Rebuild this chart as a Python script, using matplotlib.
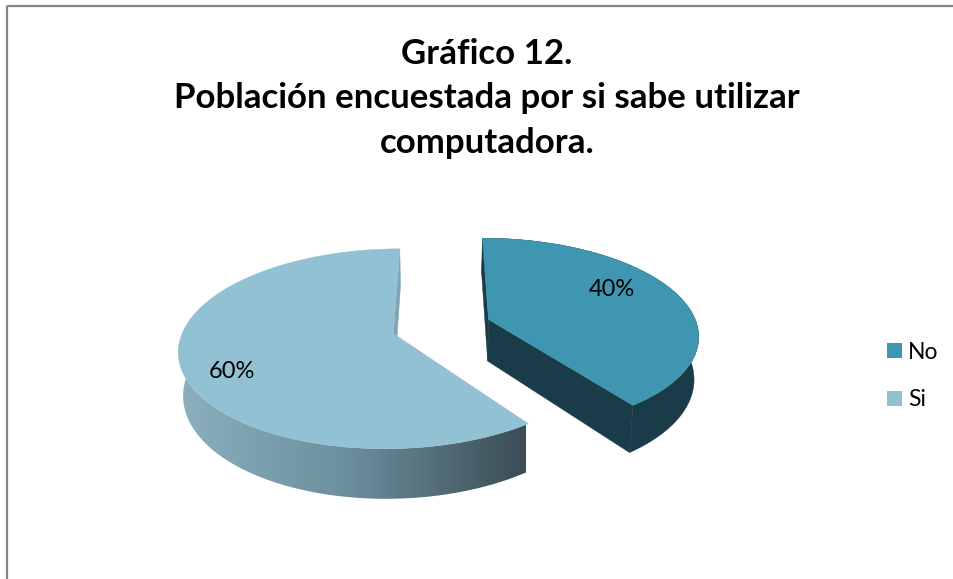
import numpy as np
import matplotlib
matplotlib.use("Agg")
import matplotlib.pyplot as plt
from matplotlib.patches import Polygon, Patch
from matplotlib.colors import LinearSegmentedColormap

plt.rcParams['font.family'] = ['Lato', 'DejaVu Sans']

# ---- data ----
categories = ["No", "Si"]
values = [40, 60]
title = "Gráfico 12.\nPoblación encuestada por si sabe utilizar\ncomputadora."

# ---- styles ----
top_colors = ["#3F96B0", "#92C1D3"]
wall_no = "#1A3C48"
wall_si = "#7FA3B2"
rim_si = LinearSegmentedColormap.from_list("rim", ["#8DB0BF", "#6B8E9C", "#3B4C54"])
border = "#868686"

# ---- projection of the exploded pie (pixel-based axes) ----
W, H = 954, 579
CX, CY = 441.5, 326.5
RX, RY = 209.0, 95.5
PERSP = 0.15
DEPTH = 42.0
SHRINK = 0.018
EXPLODE = 0.239


def project(u, v, z=0.0):
    d = 1 - PERSP * v
    return np.column_stack([CX + RX * u / d * (1 - SHRINK * z),
                            CY + (RY * v + DEPTH * z) / d])


fig = plt.figure(figsize=(W / 100, H / 100), dpi=100, facecolor="white")
ax = fig.add_axes([0, 0, 1, 1])
ax.set_xlim(0, W)
ax.set_ylim(H, 0)
ax.axis("off")

fracs = np.array(values) / np.sum(values)
edges = np.concatenate([[0], np.cumsum(fracs)]) * 2 * np.pi


def wedge(i):
    a0, a1 = edges[i], edges[i + 1]
    mid = (a0 + a1) / 2
    ou, ov = EXPLODE * np.sin(mid), -EXPLODE * np.cos(mid)
    th = np.linspace(a0, a1, 240)
    return ou, ov, ou + np.sin(th), ov - np.cos(th)


def side_wall(ou, ov, ue, ve, color, zo):
    pts = np.vstack([project(ou, ov, 0), project(ue, ve, 0),
                     project(ue, ve, 1), project(ou, ov, 1)])
    ax.add_patch(Polygon(pts, closed=True, fc=color, ec=color, lw=0.3, zorder=zo))


# Si slice (index 1)
ou, ov, u, v = wedge(1)
side_wall(ou, ov, u[-1], v[-1], wall_si, 1)
rim_pts = np.vstack([project(u, v, 0), project(u, v, 1)[::-1]])
rim_patch = Polygon(rim_pts, closed=True, fc="none", ec="none", zorder=1.5)
ax.add_patch(rim_patch)
grad = np.linspace(0, 1, 256).reshape(1, -1)
im = ax.imshow(grad, cmap=rim_si, extent=[177, 526, 510, 340], aspect="auto",
               zorder=1.5, interpolation="bilinear")
im.set_clip_path(rim_patch)
ax.add_patch(Polygon(np.vstack([project(ou, ov), project(u, v)]), closed=True,
                     fc=top_colors[1], ec=top_colors[1], lw=0.3, zorder=2))

# No slice (index 0)
ou, ov, u, v = wedge(0)
rim_pts = np.vstack([project(u, v, 0), project(u, v, 1)[::-1]])
ax.add_patch(Polygon(rim_pts, closed=True, fc=wall_no, ec=wall_no, lw=0.3, zorder=3))
side_wall(ou, ov, u[0], v[0], wall_no, 3)
side_wall(ou, ov, u[-1], v[-1], wall_no, 3)
ax.add_patch(Polygon(np.vstack([project(ou, ov), project(u, v)]), closed=True,
                     fc=top_colors[0], ec=top_colors[0], lw=0.3, zorder=4))

ax.set_xlim(0, W)
ax.set_ylim(H, 0)

# percent labels
label_pos = [(612, 290), (232, 372)]
for val, (lx, ly) in zip(values, label_pos):
    ax.text(lx, ly, f"{val}%", ha="center", va="center", fontsize=17,
            color="black", zorder=6)

# title
ax.set_title(title, x=487 / W, y=1 - 167 / H, va="bottom", ha="center",
             fontsize=25.1, fontweight="bold", linespacing=1.47, color="black")

# legend
handles = [Patch(fc=c, ec="none") for c in top_colors]
ax.legend(handles, categories, loc="center left", bbox_to_anchor=(880, 376),
          bbox_transform=ax.transData, frameon=False, fontsize=16.5,
          handlelength=0.66, handleheight=0.66, handletextpad=0.25,
          labelspacing=1.17, borderpad=0.3, borderaxespad=0)

# outer frame
ax.plot([7, 7], [579, 6], color=border, lw=1.6, solid_capstyle="butt", zorder=7)
ax.plot([7, 954], [6, 6], color=border, lw=1.6, solid_capstyle="butt", zorder=7)

fig.savefig("out.png", dpi=100)
